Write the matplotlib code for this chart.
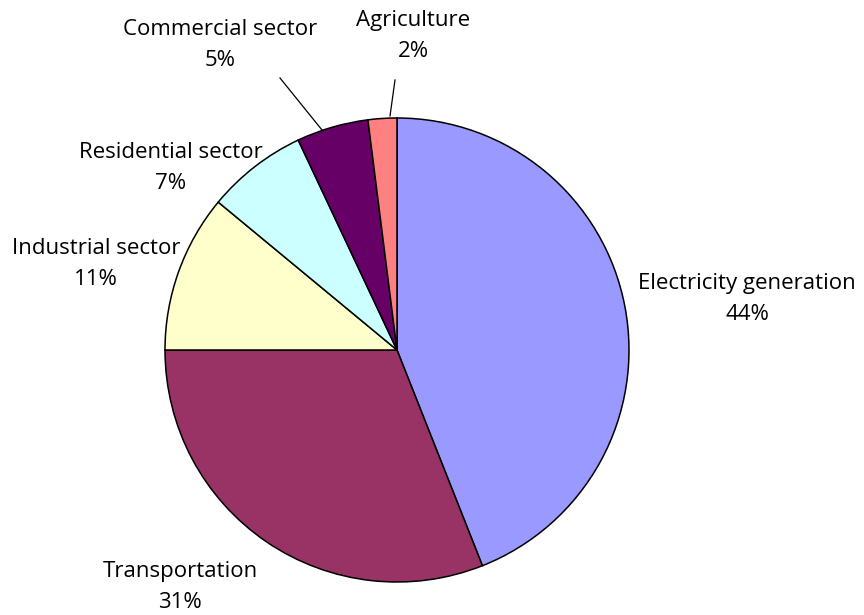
import matplotlib.pyplot as plt

# share of emissions by sector
sectors = ['Electricity generation', 'Transportation', 'Industrial sector',
           'Residential sector', 'Commercial sector', 'Agriculture']
shares = [44, 31, 11, 7, 5, 2]
colors = ['#9999FF', '#993366', '#FFFFCC', '#CCFFFF', '#660066', '#FF8080']

# label block centres in pixel space (y measured from the top)
labelPos = [(747, 299), (180, 587), (96, 264), (171, 168), (220, 45), (413, 36)]

W, H = 864, 615
plt.rcParams['font.family'] = ['Open Sans', 'DejaVu Sans']

fig = plt.figure(figsize=(W / 100, H / 100), dpi=100)
ax = fig.add_axes([0, 0, 1, 1])

cx, cy, r = 397, H - 350, 232
wedges, _ = ax.pie(shares, colors=colors, startangle=90, counterclock=False,
                   center=(cx, cy), radius=r, frame=True,
                   wedgeprops={'edgecolor': 'black', 'linewidth': 1.1})
ax.set_xlim(0, W)
ax.set_ylim(0, H)
ax.set_aspect('equal')
ax.axis('off')

for name, val, (x, y) in zip(sectors, shares, labelPos):
    ax.text(x, H - y, '{0}\n{1}%'.format(name, val), ha='center', va='center',
            fontsize=16, linespacing=1.6, color='black')

# leader lines for the two thin slices
ax.plot([280, 322], [H - 78, H - 130], color='black', lw=0.9)
ax.plot([395, 390], [H - 80, H - 116], color='black', lw=0.9)

fig.savefig('out.png', dpi=100)
